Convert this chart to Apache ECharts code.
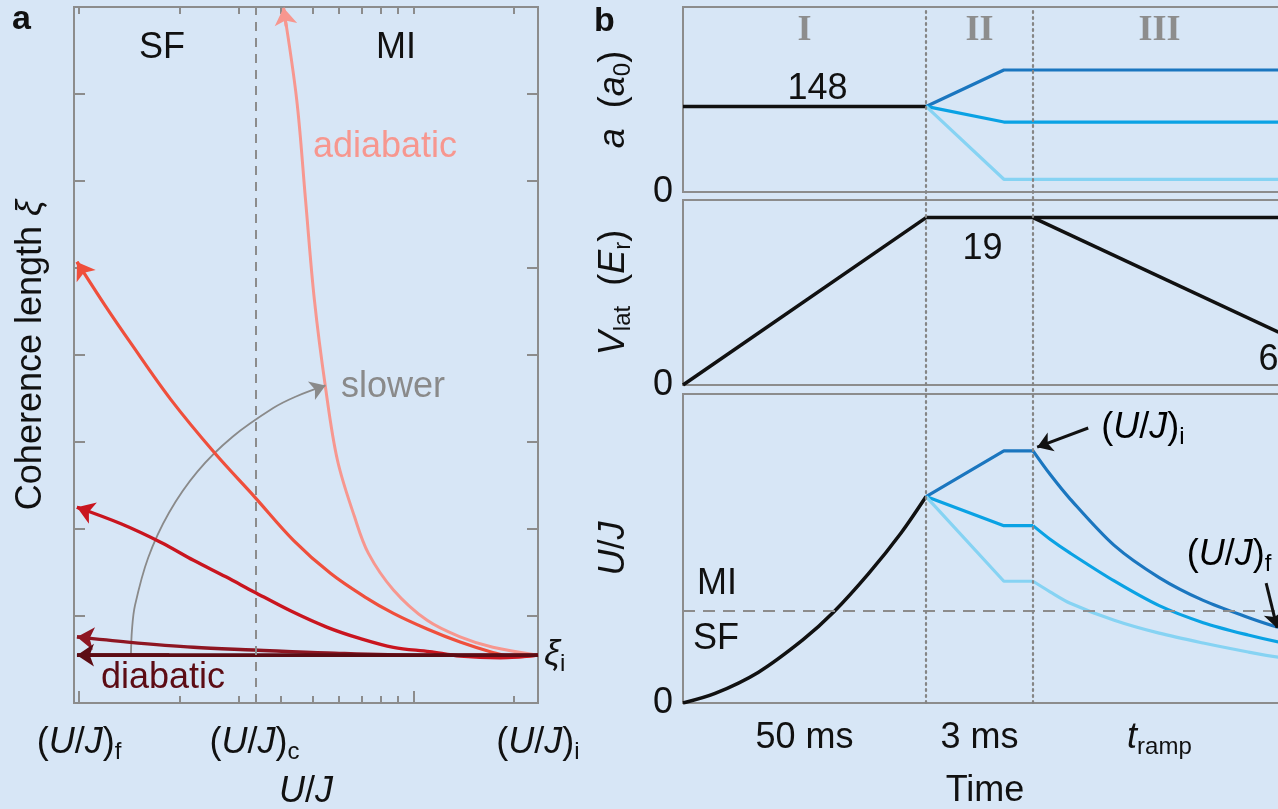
<!DOCTYPE html>
<html>
<head>
<meta charset="utf-8">
<script src="https://cdn.jsdelivr.net/npm/echarts@6/dist/echarts.min.js"></script>
<style>
  html, body { margin: 0; padding: 0; background: #d7e6f6; }
  #chart { width: 1278px; height: 809px; }
</style>
</head>
<body>
<div id="chart"></div>
<script>
// ---------- Panel a: coherence length versus U/J (U/J on a log scale) ----------
const ujMin = 0.966, ujMax = 23.6;
const ujTicksMajor = [1, 10];
const ujTicksMinor = [2, 3, 4, 5, 6, 7, 8, 9, 20];
const ujLabelValues = [1, 3.35, 23.6];
const ujLabelSubs = ['f', 'c', 'i'];
const ujCritical = 3.35;
const xiTicks = [1, 2, 3, 4, 5, 6, 7];
const xiInitial = 0.55;

// each sweep runs from (U/J)_i towards (U/J)_f; the last point carries the arrow head
const ujAdiabatic = [23.6, 17.3, 13.8, 11.0, 8.72, 7.34, 6.67, 5.93, 5.46, 5.06, 4.76, 4.48, 4.09];
const xiAdiabatic = [0.55, 0.64, 0.76, 0.95, 1.30, 1.72, 2.14, 2.79, 3.63, 4.63, 5.78, 6.93, 7.99];

const ujRamp2 = [23.6, 20.1, 17.0, 13.8, 11.0, 8.72, 7.15, 5.65, 4.38, 3.35, 2.55, 1.88, 1.42, 1.196, 0.986];
const xiRamp2 = [0.55, 0.53, 0.59, 0.70, 0.85, 1.03, 1.22, 1.49, 1.87, 2.37, 2.87, 3.49, 4.15, 4.57, 5.07];

const ujRamp3 = [23.6, 18.2, 13.8, 11.2, 8.72, 6.95, 5.53, 4.29, 3.33, 2.75, 2.20, 1.76, 1.335, 0.986];
const xiRamp3 = [0.55, 0.52, 0.54, 0.59, 0.64, 0.74, 0.87, 1.06, 1.28, 1.45, 1.64, 1.845, 2.06, 2.25];

const ujRamp4 = [23.6, 10.5, 5.53, 3.33, 2.20, 1.40, 0.986];
const xiRamp4 = [0.55, 0.55, 0.575, 0.61, 0.64, 0.70, 0.76];

const ujDiabatic = [23.6, 0.986];
const xiDiabatic = [0.55, 0.55];

// "slower" guide arc
const ujSlower = [1.43, 1.44, 1.47, 1.61, 1.86, 2.26, 2.88, 3.81, 4.44, 5.46];
const xiSlower = [0.55, 0.84, 1.12, 1.67, 2.19, 2.66, 3.06, 3.39, 3.52, 3.65];

// ---------- Panel b: sequence (schematic time units) ----------
const tMax = 26;
const tPhaseEdges = [10, 14.4];
const tPhaseCenters = [5, 12.2, 19.6];
const phaseNames = ['I', 'II', 'III'];
const phaseDurations = ['50 ms', '3 ms', 'tramp'];

const tScatBlack = [0, 10];
const aScatBlack = [148, 148];
const tScatBlue = [10, 13.2, 26];
const aScatDark = [148, 211, 211];
const aScatMid = [148, 121, 121];
const aScatLight = [148, 22, 22];

const tLatHold = [0, 10, 14.4, 26];
const vLatHold = [0, 19, 19, 19];
const tLatRamp = [14.4, 24.5];
const vLatRamp = [19, 6];

const tUJBlack = [0, 1.32, 3.09, 4.94, 6.21, 7.65, 8.97, 10];
const ujSeqBlack = [0, 0.31, 0.99, 2.05, 2.95, 4.2, 5.5, 6.68];
const tUJBlue = [10, 13.2, 14.4, 15.1, 15.93, 17.74, 19.59, 21.4, 23.25, 24.49, 26];
const ujSeqDark = [6.68, 8.16, 8.16, 7.4, 6.6, 5.1, 4.06, 3.32, 2.77, 2.45, 2.15];
const ujSeqMid = [6.68, 5.74, 5.74, 5.3, 4.85, 3.95, 3.15, 2.6, 2.2, 1.98, 1.78];
const ujSeqLight = [6.68, 3.94, 3.94, 3.6, 3.23, 2.68, 2.26, 1.94, 1.65, 1.48, 1.35];
const ujBoundary = 3.0;

// annotation arrows for (U/J)_i and (U/J)_f: [start, tip]
const arrowUJi = [[16.67, 8.9], [14.57, 8.28]];
const arrowUJf = [[23.99, 3.88], [24.44, 2.43]];

// ---------- styling ----------
const F = "'Liberation Sans', Arial, Helvetica, sans-serif";
const SERIF = "'Liberation Serif', 'Times New Roman', serif";
const INK = '#111111';
const FRAME = '#8c8c8c';
const RED = ['#f7978f', '#ef4f3c', '#c9151f', '#8e1622', '#5c0c14'];
const BLUE = ['#1b76bf', '#0aa2e4', '#86d3f3'];

function richSet(color, size) {
  const s = size || 36;
  return {
    n:   { fontFamily: F, fontSize: s, color: color, lineHeight: Math.round(s * 1.17) },
    it:  { fontFamily: F, fontSize: s, color: color, lineHeight: Math.round(s * 1.17), fontStyle: 'italic' },
    sub: { fontFamily: F, fontSize: Math.round(s * 0.66), color: color, lineHeight: Math.round(s * 0.5), verticalAlign: 'bottom' }
  };
}
const rich = richSet(INK);
const ujText = s => '{n|(}{it|U}{n|/}{it|J}{n|)}{sub|' + s + '}';

const lg = v => Math.log10(v);
const pairs = (xs, ys, fx) => xs.map((x, i) => [fx ? fx(x) : x, ys[i]]);

const bare = extra => Object.assign({
  type: 'value',
  axisLine: { show: false, onZero: false },
  axisTick: { show: false },
  axisLabel: { show: false },
  splitLine: { show: false }
}, extra);

// arrow head on the final point of a polyline, pointing along its last leg
function arrowMark(pts, color, width, size) {
  const n = pts.length, a = pts[n - 2], b = pts[n - 1];
  const f = 0.2;
  const s = [b[0] + (a[0] - b[0]) * f, b[1] + (a[1] - b[1]) * f];
  return {
    silent: true,
    animation: false,
    symbol: ['none', 'arrow'],
    symbolSize: [size, size],
    lineStyle: { color: color, width: width, type: 'solid', opacity: 1 },
    label: { show: false },
    emphasis: { disabled: true },
    data: [[{ coord: s }, { coord: b }]]
  };
}

function sweep(xs, ys, color, width, arrowSize) {
  const pts = pairs(xs, ys, lg);
  return {
    type: 'line', xAxisIndex: 0, yAxisIndex: 0,
    data: pts, smooth: 0.35, showSymbol: false, symbol: 'none',
    lineStyle: { color: color, width: width },
    markLine: arrowMark(pts, color, width, arrowSize)
  };
}

const tickStyle = { color: FRAME, width: 2 };
const gridBase = { show: true, borderColor: FRAME, borderWidth: 2, backgroundColor: 'transparent', outerBoundsMode: 'none' };

const option = {
  backgroundColor: '#d7e6f6',
  animation: false,
  grid: [
    Object.assign({ left: 74, top: 7, width: 464, height: 696 }, gridBase),
    Object.assign({ left: 683, top: 7, width: 632, height: 185 }, gridBase),
    Object.assign({ left: 683, top: 200, width: 632, height: 185 }, gridBase),
    Object.assign({ left: 683, top: 394, width: 632, height: 309 }, gridBase),
    { left: 683, top: 7, width: 632, height: 696, show: false, outerBoundsMode: 'none' }
  ],
  xAxis: [
    // 0: panel a bottom — decade ticks, labels, name
    bare({
      gridIndex: 0, position: 'bottom', min: lg(ujMin), max: lg(ujMax),
      axisTick: { show: true, inside: true, length: 12, customValues: ujTicksMajor.map(lg), lineStyle: tickStyle },
      axisLabel: {
        show: true, customValues: ujLabelValues.map(lg), margin: 19, rich: rich,
        formatter: v => {
          const i = ujLabelValues.findIndex(u => Math.abs(lg(u) - v) < 1e-9);
          return i < 0 ? '' : ujText(ujLabelSubs[i]);
        }
      },
      name: '{it|U}{n|/}{it|J}', nameLocation: 'middle', nameGap: 68,
      nameTextStyle: { rich: rich }
    }),
    // 1: panel a bottom — minor ticks
    bare({
      gridIndex: 0, position: 'bottom', min: lg(ujMin), max: lg(ujMax),
      axisTick: { show: true, inside: true, length: 7, customValues: ujTicksMinor.map(lg), lineStyle: tickStyle }
    }),
    // 2: panel a top — all ticks
    bare({
      gridIndex: 0, position: 'top', min: lg(ujMin), max: lg(ujMax),
      axisTick: { show: true, inside: true, length: 7, customValues: ujTicksMajor.concat(ujTicksMinor).map(lg), lineStyle: tickStyle }
    }),
    // 3: panel b, scattering length
    bare({ gridIndex: 1, position: 'bottom', min: 0, max: tMax }),
    // 4: panel b top — phase numerals
    bare({
      gridIndex: 1, position: 'top', min: 0, max: tMax,
      axisLabel: {
        show: true, inside: true, margin: 6, customValues: tPhaseCenters,
        fontFamily: SERIF, fontWeight: 'bold', fontSize: 36, lineHeight: 36, color: '#8d8d8d',
        formatter: v => phaseNames[tPhaseCenters.indexOf(v)] || ''
      }
    }),
    // 5: panel b, lattice depth
    bare({ gridIndex: 2, position: 'bottom', min: 0, max: tMax }),
    // 6: panel b, U/J — phase durations and time label
    bare({
      gridIndex: 3, position: 'bottom', min: 0, max: tMax,
      axisLabel: {
        show: true, customValues: tPhaseCenters, margin: 14, rich: rich,
        formatter: v => {
          const i = tPhaseCenters.indexOf(v);
          if (i < 0) return '';
          return i === 2 ? '{it|t}{sub|ramp}' : '{n|' + phaseDurations[i] + '}';
        }
      },
      name: 'Time', nameLocation: 'middle', nameGap: 70,
      nameTextStyle: { fontFamily: F, fontSize: 36, color: INK, padding: [0, 28, 0, 0] }
    }),
    // 7: overlay for phase boundaries
    bare({ gridIndex: 4, position: 'bottom', min: 0, max: tMax })
  ],
  yAxis: [
    // 0: panel a left
    bare({
      gridIndex: 0, position: 'left', min: 0, max: 8,
      axisTick: { show: true, inside: true, length: 11, customValues: xiTicks, lineStyle: tickStyle },
      name: '{n|Coherence length }{it|ξ}', nameLocation: 'middle', nameRotate: 90, nameGap: 22,
      nameTextStyle: { rich: rich }
    }),
    // 1: panel a right
    bare({
      gridIndex: 0, position: 'right', min: 0, max: 8,
      axisTick: { show: true, inside: true, length: 11, customValues: xiTicks, lineStyle: tickStyle },
      axisLabel: {
        show: true, customValues: [xiInitial], margin: 6, rich: rich,
        formatter: () => '{it|ξ}{sub|i}'
      }
    }),
    // 2: scattering length a (a0)
    bare({
      gridIndex: 1, position: 'left', min: 0, max: 320,
      axisLabel: { show: true, customValues: [0], margin: 10, fontFamily: F, fontSize: 36, color: INK },
      name: '{it|a}{n|  (}{it|a}{sub|0}{n|)}', nameLocation: 'middle', nameRotate: 90, nameGap: 48,
      nameTextStyle: { rich: rich }
    }),
    // 3: lattice depth V_lat (E_r)
    bare({
      gridIndex: 2, position: 'left', min: 0, max: 21,
      axisLabel: { show: true, customValues: [0], margin: 10, fontFamily: F, fontSize: 36, color: INK, padding: [0, 0, 16, 0] },
      name: '{it|V}{sub|lat}{n|  (}{it|E}{sub|r}{n|)}', nameLocation: 'middle', nameRotate: 90, nameGap: 48,
      nameTextStyle: { rich: rich }
    }),
    // 4: U/J
    bare({
      gridIndex: 3, position: 'left', min: 0, max: 10,
      axisLabel: { show: true, customValues: [0], margin: 10, fontFamily: F, fontSize: 36, color: INK },
      name: '{it|U}{n|/}{it|J}', nameLocation: 'middle', nameRotate: 90, nameGap: 48,
      nameTextStyle: { rich: rich }
    }),
    // 5: overlay
    bare({ gridIndex: 4, min: 0, max: 1 })
  ],
  series: [
    // ----- panel a -----
    {
      type: 'line', xAxisIndex: 0, yAxisIndex: 0, data: [],
      markLine: {
        silent: true, symbol: 'none', label: { show: false },
        lineStyle: { color: FRAME, width: 2, type: [9, 7] },
        data: [{ xAxis: lg(ujCritical) }]
      }
    },
    sweep(ujSlower, xiSlower, '#8a8a8a', 1.8, 15),
    sweep(ujAdiabatic, xiAdiabatic, RED[0], 3, 17),
    sweep(ujRamp2, xiRamp2, RED[1], 3.2, 17),
    sweep(ujRamp3, xiRamp3, RED[2], 3.4, 17),
    sweep(ujRamp4, xiRamp4, RED[3], 3.4, 17),
    sweep(ujDiabatic, xiDiabatic, RED[4], 3.6, 17),

    // ----- panel b: scattering length -----
    {
      type: 'line', xAxisIndex: 3, yAxisIndex: 2, data: pairs(tScatBlack, aScatBlack),
      showSymbol: false, symbol: 'none', lineStyle: { color: INK, width: 3.5 },
      markPoint: {
        silent: true, symbol: 'circle', symbolSize: 0,
        data: [{ coord: [tPhaseCenters[0], aScatBlack[0]], value: aScatBlack[0] }],
        label: { show: true, position: 'top', distance: 4, offset: [13, 5], formatter: '{c}', fontFamily: F, fontSize: 36, color: INK }
      }
    },
    { type: 'line', xAxisIndex: 3, yAxisIndex: 2, data: pairs(tScatBlue, aScatDark), showSymbol: false, symbol: 'none', lineStyle: { color: BLUE[0], width: 3.2 } },
    { type: 'line', xAxisIndex: 3, yAxisIndex: 2, data: pairs(tScatBlue, aScatMid), showSymbol: false, symbol: 'none', lineStyle: { color: BLUE[1], width: 3.2 } },
    { type: 'line', xAxisIndex: 3, yAxisIndex: 2, data: pairs(tScatBlue, aScatLight), showSymbol: false, symbol: 'none', lineStyle: { color: BLUE[2], width: 3.2 } },

    // ----- panel b: lattice depth -----
    {
      type: 'line', xAxisIndex: 5, yAxisIndex: 3, data: pairs(tLatHold, vLatHold),
      showSymbol: false, symbol: 'none', lineStyle: { color: INK, width: 3.5 },
      markPoint: {
        silent: true, symbol: 'circle', symbolSize: 0,
        data: [{ coord: [tPhaseCenters[1], vLatHold[1]], value: vLatHold[1] }],
        label: { show: true, position: 'bottom', distance: 8, offset: [3, 5], formatter: '{c}', fontFamily: F, fontSize: 36, color: INK }
      }
    },
    {
      type: 'line', xAxisIndex: 5, yAxisIndex: 3, data: pairs(tLatRamp, vLatRamp),
      showSymbol: false, symbol: 'none', lineStyle: { color: INK, width: 3.5 },
      markPoint: {
        silent: true, symbol: 'circle', symbolSize: 0,
        data: [{ coord: [tLatRamp[1], vLatRamp[1]], value: vLatRamp[1] }],
        label: { show: true, position: 'bottom', distance: 10, offset: [-10, 0], formatter: '{c}', fontFamily: F, fontSize: 36, color: INK }
      }
    },

    // ----- panel b: U/J -----
    {
      type: 'line', xAxisIndex: 6, yAxisIndex: 4, data: [],
      markLine: {
        silent: true, symbol: 'none', label: { show: false },
        lineStyle: { color: FRAME, width: 2, type: [12, 8] },
        data: [{ yAxis: ujBoundary }]
      }
    },
    { type: 'line', xAxisIndex: 6, yAxisIndex: 4, data: pairs(tUJBlack, ujSeqBlack), smooth: 0.3, showSymbol: false, symbol: 'none', lineStyle: { color: INK, width: 3.5 } },
    { type: 'line', xAxisIndex: 6, yAxisIndex: 4, data: pairs(tUJBlue, ujSeqDark).slice(0, 3), showSymbol: false, symbol: 'none', lineStyle: { color: BLUE[0], width: 3.2 } },
    { type: 'line', xAxisIndex: 6, yAxisIndex: 4, data: pairs(tUJBlue, ujSeqDark).slice(2), smooth: 0.3, showSymbol: false, symbol: 'none', lineStyle: { color: BLUE[0], width: 3.2 } },
    { type: 'line', xAxisIndex: 6, yAxisIndex: 4, data: pairs(tUJBlue, ujSeqMid).slice(0, 3), showSymbol: false, symbol: 'none', lineStyle: { color: BLUE[1], width: 3.2 } },
    { type: 'line', xAxisIndex: 6, yAxisIndex: 4, data: pairs(tUJBlue, ujSeqMid).slice(2), smooth: 0.3, showSymbol: false, symbol: 'none', lineStyle: { color: BLUE[1], width: 3.2 } },
    { type: 'line', xAxisIndex: 6, yAxisIndex: 4, data: pairs(tUJBlue, ujSeqLight).slice(0, 3), showSymbol: false, symbol: 'none', lineStyle: { color: BLUE[2], width: 3.2 } },
    { type: 'line', xAxisIndex: 6, yAxisIndex: 4, data: pairs(tUJBlue, ujSeqLight).slice(2), smooth: 0.3, showSymbol: false, symbol: 'none', lineStyle: { color: BLUE[2], width: 3.2 } },
    {
      type: 'line', xAxisIndex: 6, yAxisIndex: 4, data: [],
      markLine: Object.assign(arrowMark(arrowUJi, INK, 3, 15), {
        data: [
          [{ coord: arrowUJi[0] }, { coord: arrowUJi[1] }],
          [{ coord: arrowUJf[0] }, { coord: arrowUJf[1] }]
        ]
      })
    },

    // ----- phase boundaries across panel b -----
    {
      type: 'line', xAxisIndex: 7, yAxisIndex: 5, data: [],
      markLine: {
        silent: true, symbol: 'none', label: { show: false },
        lineStyle: { color: '#858585', width: 2.2, type: [2, 4], cap: 'round' },
        data: tPhaseEdges.map(t => ({ xAxis: t }))
      }
    }
  ],
  graphic: [
    { type: 'text', left: 12, top: 3, style: { text: 'a', fontFamily: F, fontWeight: 'bold', fontSize: 34, fill: INK } },
    { type: 'text', left: 594, top: 5, style: { text: 'b', fontFamily: F, fontWeight: 'bold', fontSize: 34, fill: INK } },
    { type: 'text', x: 162, y: 48, style: { text: 'SF', fontFamily: F, fontSize: 36, fill: INK, align: 'center', verticalAlign: 'middle' } },
    { type: 'text', x: 396, y: 48, style: { text: 'MI', fontFamily: F, fontSize: 36, fill: INK, align: 'center', verticalAlign: 'middle' } },
    { type: 'text', x: 385, y: 147, style: { text: 'adiabatic', fontFamily: F, fontSize: 36, fill: RED[0], align: 'center', verticalAlign: 'middle' } },
    { type: 'text', x: 393, y: 387, style: { text: 'slower', fontFamily: F, fontSize: 36, fill: '#8a8a8a', align: 'center', verticalAlign: 'middle' } },
    { type: 'text', x: 163, y: 678, style: { text: 'diabatic', fontFamily: F, fontSize: 36, fill: RED[4], align: 'center', verticalAlign: 'middle' } },
    { type: 'text', x: 717, y: 584, style: { text: 'MI', fontFamily: F, fontSize: 36, fill: INK, align: 'center', verticalAlign: 'middle' } },
    { type: 'text', x: 716, y: 639, style: { text: 'SF', fontFamily: F, fontSize: 36, fill: INK, align: 'center', verticalAlign: 'middle' } },
    { type: 'text', x: 1143, y: 428, style: { text: ujText('i'), rich: rich, align: 'center', verticalAlign: 'middle' } },
    { type: 'text', x: 1229, y: 555, style: { text: ujText('f'), rich: rich, align: 'center', verticalAlign: 'middle' } }
  ]
};

const chart = echarts.init(document.getElementById('chart'), null, { renderer: 'canvas', width: 1278, height: 809 });
chart.setOption(option);
</script>
</body>
</html>
